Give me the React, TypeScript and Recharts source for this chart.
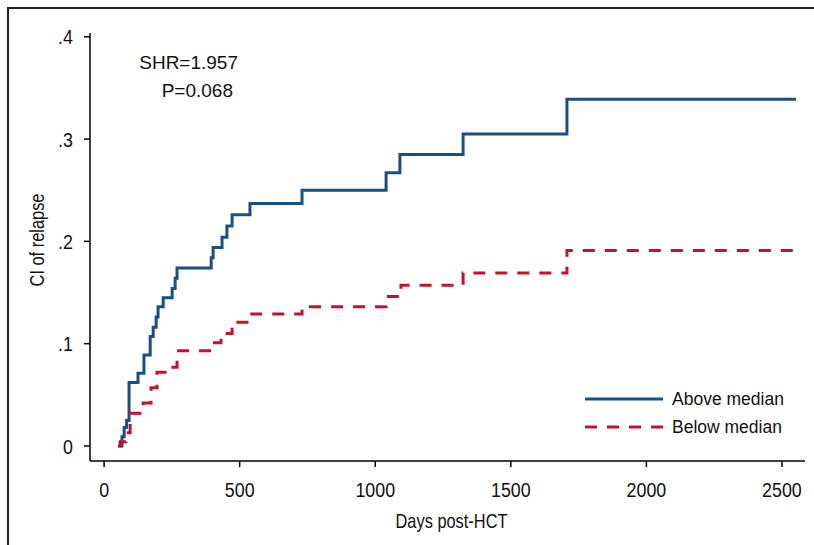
import React from 'react';
import { LineChart, Line, XAxis, YAxis, Label } from 'recharts';

// cumulative incidence of relapse
const aboveDays = [52, 66, 74, 83, 92, 125, 147, 170, 181, 192, 199, 218, 251, 262, 269, 395, 402, 435, 453, 472, 538, 730, 1040, 1091, 1324, 1707, 2552];
const aboveCI = [0, 0.009, 0.018, 0.025, 0.062, 0.071, 0.089, 0.107, 0.116, 0.126, 0.136, 0.145, 0.154, 0.164, 0.174, 0.184, 0.194, 0.204, 0.215, 0.226, 0.237, 0.25, 0.267, 0.285, 0.305, 0.339, 0.339];

const belowDays = [52, 59, 81, 96, 144, 173, 195, 243, 269, 395, 431, 472, 534, 730, 1040, 1095, 1324, 1707, 2552];
const belowCI = [0, 0.004, 0.013, 0.032, 0.042, 0.057, 0.072, 0.077, 0.093, 0.101, 0.11, 0.121, 0.129, 0.136, 0.146, 0.157, 0.169, 0.191, 0.191];

const xTicks = [0, 500, 1000, 1500, 2000, 2500];
const yTicks = [0, 0.1, 0.2, 0.3, 0.4];

const SERIES = [
  { name: 'Above median', days: aboveDays, ci: aboveCI, color: '#1a4f82', dash: undefined },
  { name: 'Below median', days: belowDays, ci: belowCI, color: '#c8102e', dash: '12 10' },
];

const SANS = "'Liberation Sans', Arial, sans-serif";

const fmtY = (v: number) => (v === 0 ? '0' : v.toFixed(1).replace(/^0/, ''));

// Stata uses a condensed face for axes; squeeze Liberation Sans horizontally
const XTick = ({ x, y, payload }: any) => (
  <g transform={`translate(${x},${y})`}>
    <text transform="scale(0.85,1)" textAnchor="middle" dy="0.71em" fontSize={21} fontFamily={SANS} fill="#111">
      {payload.value}
    </text>
  </g>
);

const YTick = ({ x, y, payload }: any) => (
  <g transform={`translate(${x},${y})`}>
    <text transform="scale(0.85,1)" textAnchor="end" dy="0.36em" fontSize={21} fontFamily={SANS} fill="#111">
      {fmtY(payload.value)}
    </text>
  </g>
);

const XTitle = ({ viewBox }: any) => (
  <g transform={`translate(${viewBox.x + viewBox.width / 2 + 4},${viewBox.y + 67})`}>
    <text transform="scale(0.82,1)" textAnchor="middle" fontSize={20} fontFamily={SANS} fill="#111">
      Days post-HCT
    </text>
  </g>
);

const YTitle = () => (
  <g transform="translate(37,240) rotate(-90)">
    <text transform="scale(0.82,1)" textAnchor="middle" dy="0.36em" fontSize={20} fontFamily={SANS} fill="#111">
      CI of relapse
    </text>
  </g>
);

export default function App() {
  const tables = SERIES.map((s) => s.days.map((d, i) => ({ day: d, ci: s.ci[i] })));

  return (
    <div style={{ position: 'absolute', left: 0, top: 0, width: 814, height: 545, background: '#fff', overflow: 'hidden' }}>
      {/* outer frame */}
      <div style={{ position: 'absolute', left: 7, top: 7, width: 900, height: 700, borderLeft: '2px solid #222', borderTop: '2px solid #222' }} />

      <LineChart width={814} height={545} margin={{ top: 33, right: 9, bottom: 14, left: 10 }}>
        <XAxis
          type="number"
          dataKey="day"
          domain={[-52, 2585]}
          ticks={xTicks}
          allowDataOverflow
          height={70}
          stroke="#000"
          strokeWidth={1.5}
          tickSize={6}
          tickMargin={15}
          tick={<XTick />}
        >
          <Label content={<XTitle />} />
        </XAxis>
        <YAxis
          type="number"
          domain={[-0.0147, 0.4037]}
          ticks={yTicks}
          allowDataOverflow
          width={80}
          stroke="#000"
          strokeWidth={1.5}
          tickSize={6}
          tickMargin={11}
          tick={<YTick />}
        >
          <Label content={<YTitle />} />
        </YAxis>
        {SERIES.map((s, i) => (
          <Line
            key={s.name}
            data={tables[i]}
            dataKey="ci"
            name={s.name}
            type="stepAfter"
            stroke={s.color}
            strokeWidth={3}
            strokeDasharray={s.dash}
            dot={false}
            activeDot={false}
            isAnimationActive={false}
          />
        ))}
      </LineChart>

      {/* legend */}
      <div style={{ position: 'absolute', left: 585, top: 385, fontFamily: SANS, fontSize: 17.5, color: '#111' }}>
        {SERIES.map((s) => (
          <div key={s.name} style={{ display: 'flex', alignItems: 'center', height: 28 }}>
            <svg width={87} height={10}>
              <line x1={0} y1={5} x2={78} y2={5} stroke={s.color} strokeWidth={3} strokeDasharray={s.dash} />
            </svg>
            <span>{s.name}</span>
          </div>
        ))}
      </div>

      {/* annotation */}
      <div style={{ position: 'absolute', left: 90, top: 49, width: 148, textAlign: 'right', fontFamily: SANS, fontSize: 19, lineHeight: '28px', color: '#111' }}>
        <div>SHR=1.957</div>
        <div style={{ paddingRight: 5 }}>P=0.068</div>
      </div>
    </div>
  );
}
